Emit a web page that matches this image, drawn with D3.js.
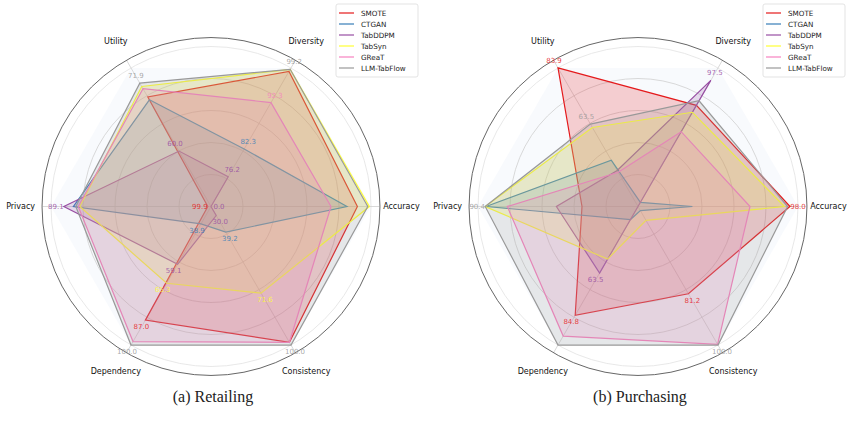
<!DOCTYPE html>
<html>
<head>
<meta charset="utf-8">
<script src="https://cdn.jsdelivr.net/npm/d3@7"></script>
<style>
  body { margin: 0; background: #fff; }
  text { font-family: "DejaVu Sans", sans-serif; }
</style>
</head>
<body>
<script>
// axes go counter-clockwise from 3 o'clock, 60 degrees apart
var axes = ["Accuracy", "Diversity", "Utility", "Privacy", "Dependency", "Consistency"];
var models = ["SMOTE", "CTGAN", "TabDDPM", "TabSyn", "GReaT", "LLM-TabFlow"];
var colors = ["#e41a1c", "#377eb8", "#984ea3", "#ffff33", "#f781bf", "#999999"];

// normalised scores as plotted (0..1), one row per model, columns follow axes
var retailScores = [
  [0.915, 0.975, 0.79, 0.02, 0.82, 0.98],
  [0.85, 0.415, 0.77, 0.86, 0.125, 0.185],
  [0.0, 0.215, 0.40, 0.92, 0.417, 0.065],
  [0.99, 0.99, 0.866, 0.82, 0.554, 0.625],
  [0.75, 0.75, 0.85, 0.83, 0.975, 0.98],
  [0.98, 0.99, 0.89, 0.845, 1.0, 1.0]
];
var purchaseScores = [
  [0.95, 0.73, 1.0, 0.35, 0.785, 0.63],
  [0.34, 0.03, 0.334, 0.95, 0.094, 0.03],
  [0.0, 0.91, 0.26, 0.51, 0.48, 0.0],
  [0.915, 0.68, 0.57, 0.955, 0.38, 0.10],
  [0.70, 0.54, 0.247, 0.817, 0.935, 0.995],
  [0.935, 0.763, 0.595, 0.955, 1.0, 1.0]
];

// raw values written next to some vertices: [model, axis, text]
var retailNotes = [
  [5, 2, "71.9"], [2, 2, "60.0"],
  [5, 1, "99.2"], [4, 1, "92.3"], [1, 1, "82.3"], [2, 1, "76.2"],
  [2, 3, "89.1"], [0, 3, "99.9"], [2, 0, "0.0"],
  [2, 5, "30.0"], [1, 5, "39.2"], [3, 5, "71.6"], [5, 5, "100.0"],
  [1, 4, "38.9"], [2, 4, "59.1"], [3, 4, "65.3"], [0, 4, "87.0"], [5, 4, "100.0"]
];
var purchaseNotes = [
  [0, 2, "83.9"], [5, 2, "63.5"], [2, 1, "97.5"], [5, 3, "90.4"], [0, 0, "98.0"],
  [2, 4, "63.5"], [0, 4, "84.8"], [0, 5, "81.2"], [5, 5, "100.0"]
];

var width = 852, height = 429;
var svg = d3.select("body").append("svg").attr("width", width).attr("height", height);

var r = d3.scaleLinear().domain([0, 1]).range([0, 160]);
var angle = function(i) { return i * Math.PI / 3; };  // math angle
var px = function(i, v) { return r(v) * Math.cos(angle(i)); };
var py = function(i, v) { return -r(v) * Math.sin(angle(i)); };

var radar = d3.lineRadial()
    .angle(function(d, i) { return Math.PI / 2 - angle(i); })
    .radius(function(d) { return r(d); })
    .curve(d3.curveLinearClosed);

function drawRadar(cx, cy, scores, notes, caption) {
  var g = svg.append("g").attr("transform", "translate(" + cx + "," + cy + ")");

  // faint backdrop hexagon at full score
  g.append("path").attr("d", radar(axes.map(function() { return 1; })))
    .attr("fill", "#dbe6f5").attr("fill-opacity", 0.2);

  // grid rings
  g.selectAll("circle.grid").data([0.2, 0.4, 0.6, 0.8, 1.0]).enter().append("circle")
    .attr("class", "grid").attr("r", function(d) { return r(d); })
    .attr("fill", "none")
    .attr("stroke", function(d) { return d === 1 ? "#e2e2e2" : "#cfcfcf"; })
    .attr("stroke-width", 0.8);

  // spokes
  g.selectAll("line.spoke").data(axes).enter().append("line")
    .attr("x1", 0).attr("y1", 0)
    .attr("x2", function(d, i) { return px(i, 1.056); })
    .attr("y2", function(d, i) { return py(i, 1.056); })
    .attr("stroke", "#cfcfcf").attr("stroke-width", 0.8);

  // outer frame
  g.append("circle").attr("r", r(1.056)).attr("fill", "none")
    .attr("stroke", "#555").attr("stroke-width", 0.9);

  // series
  scores.forEach(function(row, k) {
    g.append("path").attr("d", radar(row))
      .attr("fill", colors[k]).attr("fill-opacity", 0.2)
      .attr("stroke", colors[k]).attr("stroke-width", 1.2);
  });

  // axis names
  g.selectAll("text.axis").data(axes).enter().append("text")
    .attr("x", function(d, i) { return px(i, 1.19); })
    .attr("y", function(d, i) { return py(i, 1.19); })
    .attr("text-anchor", "middle").attr("dominant-baseline", "central")
    .attr("font-size", 8).attr("fill", "#111")
    .text(function(d) { return d; });

  // value notes, pushed a little outward from their vertex
  g.selectAll("text.note").data(notes).enter().append("text")
    .attr("x", function(d) { return px(d[1], scores[d[0]][d[1]] + 0.05); })
    .attr("y", function(d) { return py(d[1], scores[d[0]][d[1]] + 0.05); })
    .attr("text-anchor", "middle").attr("dominant-baseline", "central")
    .attr("font-size", 7).attr("fill", function(d) { return colors[d[0]]; })
    .attr("fill-opacity", 0.85)
    .text(function(d) { return d[2]; });

  // legend
  var lg = g.append("g").attr("transform", "translate(" + 125 + "," + (-cy + 4) + ")");
  lg.append("rect").attr("width", 82).attr("height", 73).attr("rx", 2)
    .attr("fill", "#fff").attr("fill-opacity", 0.8).attr("stroke", "#dcdcdc").attr("stroke-width", 0.8);
  models.forEach(function(m, k) {
    var y = 9 + k * 11;
    lg.append("line").attr("x1", 3).attr("x2", 18).attr("y1", y).attr("y2", y)
      .attr("stroke", colors[k]).attr("stroke-width", 1.2);
    lg.append("text").attr("x", 25).attr("y", y).attr("dominant-baseline", "central")
      .attr("font-size", 7.2).attr("fill", "#222").text(m);
  });

  // sub caption
  svg.append("text").attr("x", cx + 2).attr("y", 402)
    .attr("text-anchor", "middle")
    .style("font-family", "'Liberation Serif', serif").attr("font-size", 16)
    .attr("fill", "#222").text(caption);
}

drawRadar(211, 206.5, retailScores, retailNotes, "(a) Retailing");
drawRadar(638, 206.5, purchaseScores, purchaseNotes, "(b) Purchasing");
</script>
</body>
</html>
